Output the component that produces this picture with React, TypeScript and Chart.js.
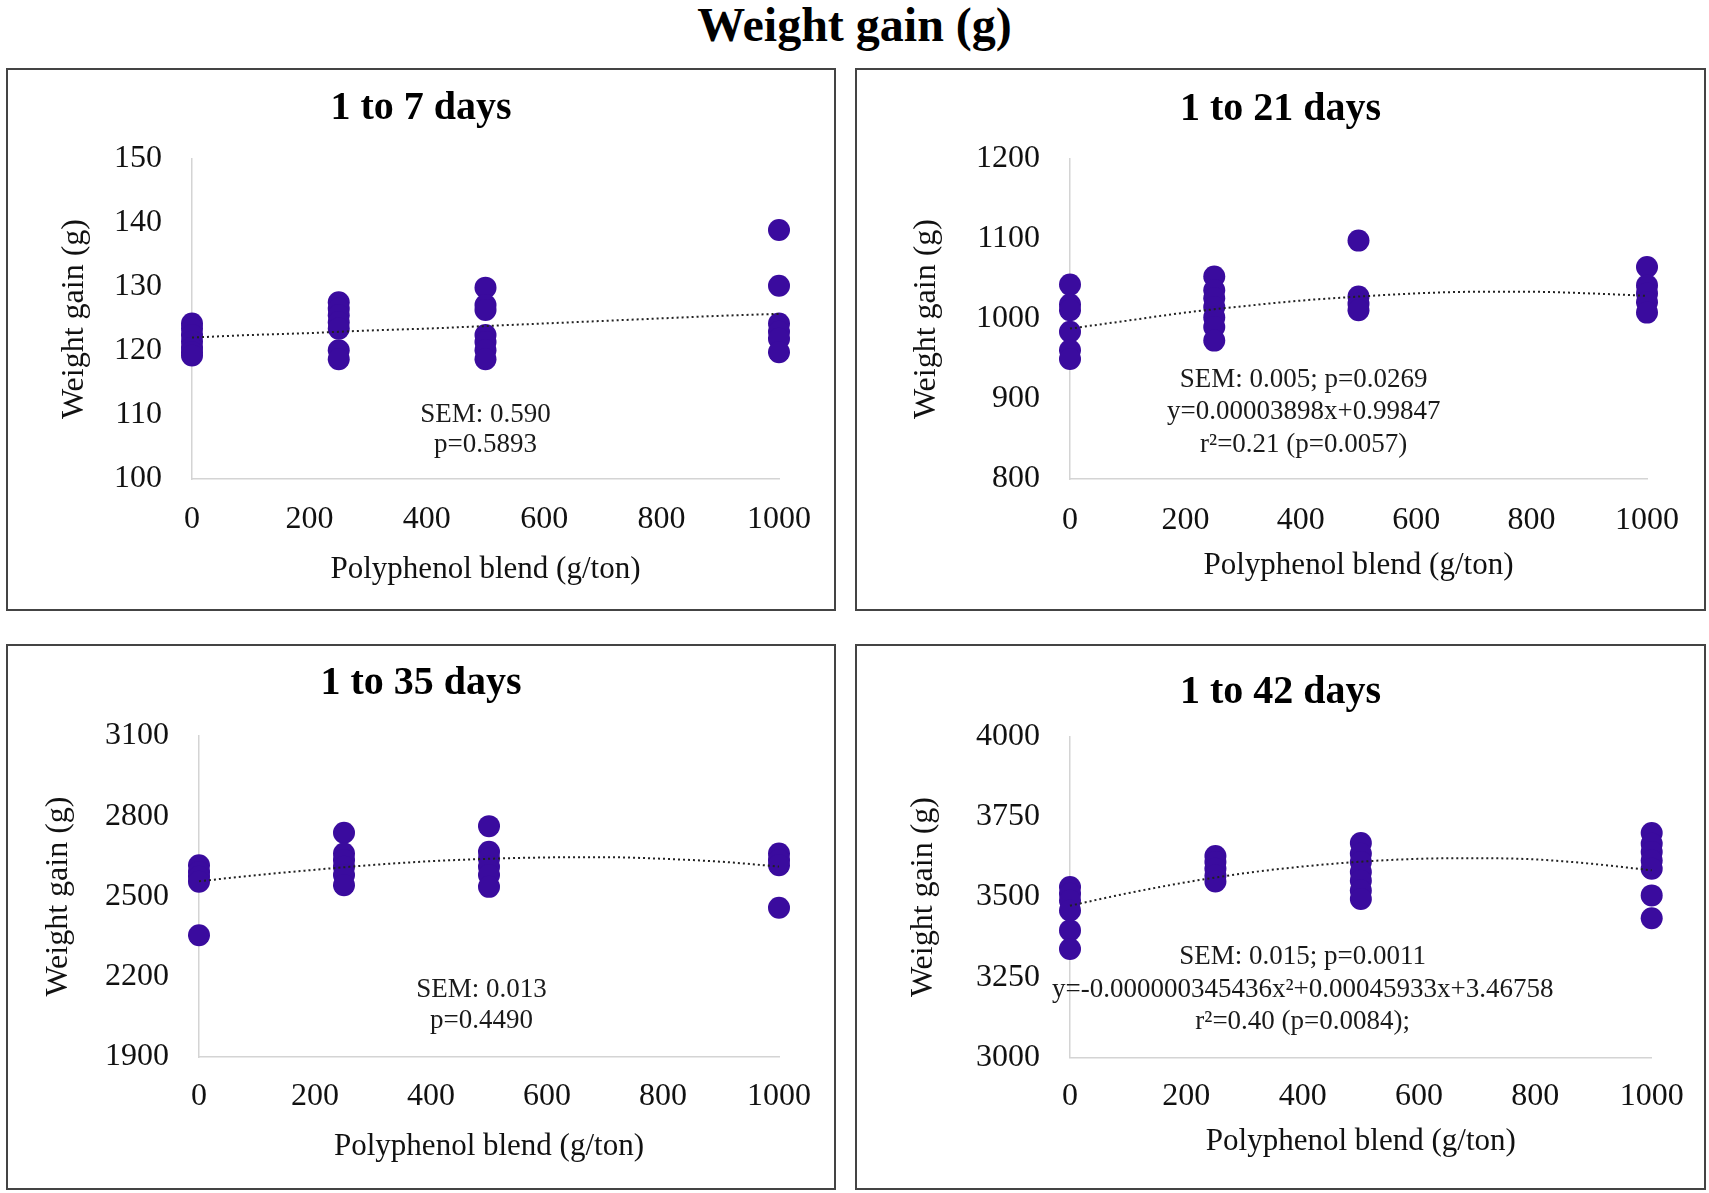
import { useEffect, useRef } from 'react'
import { Chart, registerables } from 'chart.js'

Chart.register(...registerables)

// treatment levels (g/ton) and the x positions used for the dotted trend curves
const doses = [0, 250, 500, 1000]
const trendDoses = [0, 100, 200, 300, 400, 500, 600, 700, 800, 900, 1000]
const xTicks = [0, 200, 400, 600, 800, 1000]

// weight gain per bird, one inner list per dose
const gain1to7 = [
  [124.3, 123.5, 122.5, 121.5, 120.5, 119.8, 119.3],
  [127.6, 126.6, 125.6, 124.5, 123.5, 120.1, 118.7],
  [129.9, 127.2, 126.4, 122.5, 121.4, 120.1, 118.7],
  [138.9, 130.2, 124.3, 123.0, 121.9, 119.8],
]
const gain1to21 = [
  [1043, 1018, 1011, 984, 961, 950],
  [1053, 1036, 1026, 1015, 1002, 990, 973],
  [1098, 1028, 1019, 1011],
  [1065, 1042, 1032, 1021, 1008],
]
const gain1to35 = [
  [2617, 2592, 2574, 2555, 2355],
  [2738, 2661, 2636, 2611, 2580, 2542],
  [2763, 2667, 2642, 2611, 2580, 2536],
  [2661, 2636, 2617, 2458],
]
const gain1to42 = [
  [3531, 3510, 3489, 3458, 3396, 3338],
  [3628, 3609, 3588, 3567, 3548],
  [3668, 3635, 3609, 3578, 3551, 3520, 3494],
  [3699, 3666, 3640, 3614, 3588, 3505, 3434],
]

// trend curves
const trend1to7 = [122.1, 122.5, 122.8, 123.2, 123.5, 123.9, 124.3, 124.7, 125.1, 125.5, 125.8]
const trend1to21 = [988, 998, 1008, 1016, 1023, 1028, 1032, 1034, 1034, 1032, 1029]
const trend1to35 = [2557, 2580, 2600, 2618, 2632, 2641, 2646, 2647, 2641, 2630, 2612]
const trend1to42 = [3473, 3512, 3546, 3574, 3595, 3610, 3619, 3621, 3617, 3603, 3583]

const yTicks1to7 = [100, 110, 120, 130, 140, 150]
const yTicks1to21 = [800, 900, 1000, 1100, 1200]
const yTicks1to35 = [1900, 2200, 2500, 2800, 3100]
const yTicks1to42 = [3000, 3250, 3500, 3750, 4000]

const notes1to7 = ['SEM: 0.590', 'p=0.5893']
const notes1to21 = ['SEM: 0.005; p=0.0269', 'y=0.00003898x+0.99847', 'r\u00b2=0.21 (p=0.0057)']
const notes1to35 = ['SEM: 0.013', 'p=0.4490']
const notes1to42 = ['SEM: 0.015; p=0.0011', 'y=-0.000000345436x\u00b2+0.00045933x+3.46758', 'r\u00b2=0.40 (p=0.0084);']

const SERIF = '"Liberation Serif", "Times New Roman", serif'
const DOT = '#3a0b9e'

const notesPlugin = {
  id: 'notes',
  afterDatasetsDraw(chart: any, _args: any, opts: any) {
    const { ctx, scales } = chart
    const x = scales.x.getPixelForValue(opts.x)
    const y = scales.y.getPixelForValue(opts.y)
    ctx.save()
    ctx.font = `27px ${SERIF}`
    ctx.fillStyle = '#1a1a1a'
    ctx.textAlign = 'center'
    ctx.textBaseline = 'middle'
    opts.lines.forEach((t: string, i: number) => ctx.fillText(t, x, y + i * opts.gap))
    ctx.restore()
  },
}

type Panel = {
  title: string
  values: number[][]
  trend: number[]
  yTicks: number[]
  notes: string[]
  noteX: number
  noteY: number
  noteGap: number
  // layout, in page pixels
  left: number
  top: number
  width: number
  height: number
  titleC: number
  areaTop: number
  areaLeft: number
  areaRight: number
  areaBottom: number
  xTickC: number
  xTitleC: number
  yTitleC: number
}

const panels: Panel[] = [
  {
    title: '1 to 7 days', values: gain1to7, trend: trend1to7, yTicks: yTicks1to7,
    notes: notes1to7, noteX: 500, noteY: 110, noteGap: 30,
    left: 6, top: 68, width: 830, height: 543,
    titleC: 38.5, areaTop: 89, areaLeft: 184, areaRight: 771, areaBottom: 409,
    xTickC: 449.5, xTitleC: 500, yTitleC: 67,
  },
  {
    title: '1 to 21 days', values: gain1to21, trend: trend1to21, yTicks: yTicks1to21,
    notes: notes1to21, noteX: 405, noteY: 924, noteGap: 32.5,
    left: 855, top: 68, width: 851, height: 543,
    titleC: 40, areaTop: 89, areaLeft: 213, areaRight: 790, areaBottom: 409,
    xTickC: 451, xTitleC: 496, yTitleC: 70,
  },
  {
    title: '1 to 35 days', values: gain1to35, trend: trend1to35, yTicks: yTicks1to35,
    notes: notes1to35, noteX: 487, noteY: 2151, noteGap: 31,
    left: 6, top: 644, width: 830, height: 546,
    titleC: 38, areaTop: 90, areaLeft: 191, areaRight: 771, areaBottom: 411,
    xTickC: 451, xTitleC: 501, yTitleC: 51,
  },
  {
    title: '1 to 42 days', values: gain1to42, trend: trend1to42, yTicks: yTicks1to42,
    notes: notes1to42, noteX: 400, noteY: 3313, noteGap: 32.5,
    left: 855, top: 644, width: 851, height: 546,
    titleC: 47, areaTop: 90.5, areaLeft: 213, areaRight: 799, areaBottom: 411.5,
    xTickC: 451, xTitleC: 496, yTitleC: 67,
  },
]

const BORDER = 2

const ScatterPanel = ({ p }: { p: Panel }) => {
  const canvasRef = useRef<HTMLCanvasElement>(null)
  const w = p.width - BORDER * 2
  const h = p.height - BORDER * 2

  useEffect(() => {
    const ctx = canvasRef.current!.getContext('2d')!
    const points = p.values.flatMap((list, i) => list.map((v) => ({ x: doses[i], y: v })))
    const trend = trendDoses.map((d, i) => ({ x: d, y: p.trend[i] }))
    const titleLH = 40 * 1.2
    const yTitleLH = 32 * 1.2
    const xTitleLH = 31 * 1.2
    const tickLH = 32 * 1.2

    const chart = new Chart(ctx, {
      type: 'scatter',
      data: {
        datasets: [
          {
            data: trend,
            showLine: true,
            borderColor: '#222',
            borderWidth: 2,
            borderDash: [2, 3],
            pointRadius: 0,
            tension: 0.4,
            cubicInterpolationMode: 'monotone',
            order: 0,
            clip: false,
          } as any,
          {
            data: points,
            backgroundColor: DOT,
            borderWidth: 0,
            pointRadius: 11,
            pointHoverRadius: 11,
            order: 1,
            clip: false,
          },
        ],
      },
      options: {
        responsive: false,
        animation: false,
        events: [],
        layout: { padding: 0 },
        plugins: {
          legend: { display: false },
          tooltip: { enabled: false },
          title: {
            display: true,
            text: p.title,
            color: '#000',
            font: { family: SERIF, size: 40, weight: 'bold', lineHeight: 1.2 },
            padding: { top: p.titleC - titleLH / 2, bottom: p.areaTop - p.titleC - titleLH / 2 },
          },
          notes: { x: p.noteX, y: p.noteY, lines: p.notes, gap: p.noteGap },
        } as any,
        scales: {
          x: {
            type: 'linear',
            min: xTicks[0],
            max: xTicks[xTicks.length - 1],
            afterBuildTicks: (s: any) => { s.ticks = xTicks.map((v) => ({ value: v })) },
            afterFit: (s: any) => { s.height = h - p.areaBottom },
            grid: { display: false, drawTicks: false },
            border: { display: true, color: '#d4d4d4', width: 1.5 },
            ticks: {
              color: '#111',
              font: { family: SERIF, size: 32, lineHeight: 1.2 },
              padding: p.xTickC - p.areaBottom - tickLH / 2,
              maxRotation: 0,
              callback: (v: any) => String(v),
            },
            title: {
              display: true,
              text: 'Polyphenol blend (g/ton)',
              color: '#111',
              font: { family: SERIF, size: 31, lineHeight: 1.2 },
              padding: { top: 0, bottom: h - p.xTitleC - xTitleLH / 2 },
            },
          },
          y: {
            type: 'linear',
            min: p.yTicks[0],
            max: p.yTicks[p.yTicks.length - 1],
            afterBuildTicks: (s: any) => { s.ticks = p.yTicks.map((v) => ({ value: v })) },
            afterFit: (s: any) => { s.width = p.areaLeft },
            grid: { display: false, drawTicks: false },
            border: { display: true, color: '#d4d4d4', width: 1.5 },
            ticks: {
              color: '#111',
              font: { family: SERIF, size: 32, lineHeight: 1.2 },
              padding: 30,
              callback: (v: any) => String(v),
            },
            title: {
              display: true,
              text: 'Weight gain (g)',
              color: '#111',
              font: { family: SERIF, size: 32, lineHeight: 1.2 },
              padding: { top: p.yTitleC - yTitleLH / 2, bottom: 0 },
            },
          },
          // empty right-hand axis that only reserves the blank margin, so the title stays centred on the panel
          spacer: {
            type: 'linear',
            position: 'right',
            display: true,
            afterFit: (s: any) => { s.width = w - p.areaRight },
            grid: { display: false, drawTicks: false },
            border: { display: false },
            ticks: { display: false },
          },
        } as any,
      },
      plugins: [notesPlugin],
    })

    return () => chart.destroy()
  }, [p])

  return (
    <div
      style={{
        position: 'absolute',
        left: p.left,
        top: p.top,
        width: p.width,
        height: p.height,
        border: `${BORDER}px solid #444`,
        boxSizing: 'border-box',
        background: '#fff',
      }}
    >
      <canvas ref={canvasRef} width={w} height={h} style={{ display: 'block', width: w, height: h }} />
    </div>
  )
}

const App = () => {
  return (
    <div style={{ position: 'absolute', left: 0, top: 0, width: 1709, height: 1193, background: '#fff', overflow: 'hidden' }}>
      <div
        style={{
          position: 'absolute',
          left: 0,
          top: 0,
          width: 1709,
          height: 50,
          lineHeight: '50px',
          textAlign: 'center',
          fontFamily: SERIF,
          fontWeight: 'bold',
          fontSize: 48,
          color: '#000',
        }}
      >
        Weight gain (g)
      </div>
      {panels.map((p) => (
        <ScatterPanel key={p.title} p={p} />
      ))}
    </div>
  )
}

export default App
